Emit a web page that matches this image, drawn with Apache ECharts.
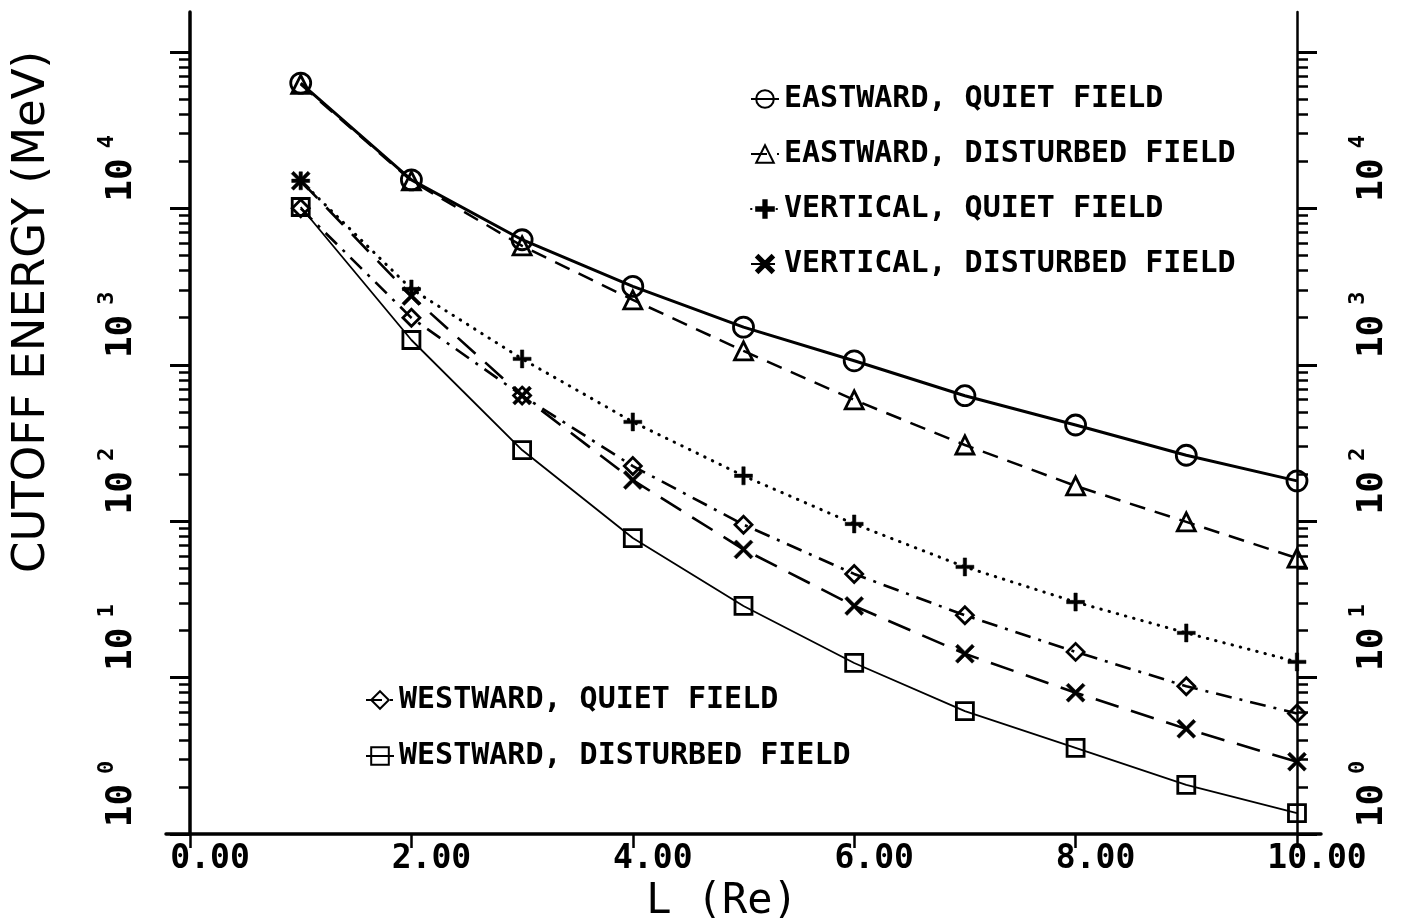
<!DOCTYPE html>
<html>
<head>
<meta charset="utf-8">
<script src="https://cdn.jsdelivr.net/npm/echarts@6/dist/echarts.min.js"></script>
<style>
html,body{margin:0;padding:0;background:#fff;}
#c{width:1403px;height:924px;}
</style>
</head>
<body>
<div id="c"></div>
<script>
// ---- data ----
const L = [1, 2, 3, 4, 5, 6, 7, 8, 9, 10];
const eastQuiet = [63200, 15200, 6300, 3170, 1740, 1060, 634, 412, 264, 181];
const eastDist  = [62000, 15000, 5750, 2600, 1225, 596, 307, 168, 99, 58];
const vertQuiet = [15000, 3050, 1090, 431, 195, 96, 51, 30.4, 19.3, 12.6];
const vertDist  = [15000, 2750, 635, 183, 66, 28.7, 14.2, 8.0, 4.7, 2.9];
const westQuiet = [10000, 1995, 635, 225, 95, 46, 25, 14.6, 8.8, 5.9];
const westDist  = [10200, 1440, 285, 78, 28.7, 12.4, 6.1, 3.55, 2.06, 1.36];
const seriesNames = [
  'EASTWARD, QUIET FIELD',
  'EASTWARD, DISTURBED FIELD',
  'VERTICAL, QUIET FIELD',
  'VERTICAL, DISTURBED FIELD',
  'WESTWARD, QUIET FIELD',
  'WESTWARD, DISTURBED FIELD'
];
const xTicks = [0, 2, 4, 6, 8, 10];
const yMajorTicks = [1, 10, 100, 1000, 10000, 100000];
const yLabels = [1, 10, 100, 1000, 10000];
const yMinorFactors = [2, 3, 4, 5, 6, 7, 8, 9];
const yMinorDecades = [1, 10, 100, 1000, 10000];
const xTitle = 'L (Re)';
const yTitle = 'CUTOFF ENERGY (MeV)';

// ---- build ----
const yMinor = [];
yMinorDecades.forEach(d => yMinorFactors.forEach(k => yMinor.push(k * d)));
const pairs = arr => arr.map((v, i) => [L[i], v]);

const MONO = '"DejaVu Sans Mono", monospace';
const SANS = '"DejaVu Sans", sans-serif';
const Y_MIN = 1, Y_MAX = 180000;
const AXIS_INSET = 24; // x axis line runs past both y axes by this many px

const PLUS = 'path://M6.5,0H9.5V6.5H16V9.5H9.5V16H6.5V9.5H0V6.5H6.5Z';
const CROSS = 'path://M0,2L2,0L8,6L14,0L16,2L10,8L16,14L14,16L8,10L2,16L0,14L6,8Z';

const openItem = {color: 'rgba(0,0,0,0)', borderColor: '#000', borderWidth: 2.8};
const filledItem = {color: '#000', borderColor: '#000', borderWidth: 0.5};

function line(name, data, symbol, size, lineStyle, item) {
  return {
    name: name,
    type: 'line',
    xAxisIndex: 0,
    yAxisIndex: 0,
    data: pairs(data),
    symbol: symbol,
    symbolSize: size,
    symbolKeepAspect: true,
    showAllSymbol: true,
    smooth: false,
    lineStyle: Object.assign({color: '#000'}, lineStyle),
    itemStyle: item,
    emphasis: {disabled: true}
  };
}

const series = [
  line(seriesNames[0], eastQuiet, 'circle', 20, {width: 3, type: 'solid'}, openItem),
  line(seriesNames[1], eastDist, 'triangle', 18, {width: 2.5, type: [16, 10]}, openItem),
  line(seriesNames[2], vertQuiet, PLUS, 18, {width: 3, type: [0.5, 8], cap: 'round'}, filledItem),
  line(seriesNames[3], vertDist, CROSS, 19, {width: 2.6, type: [24, 13]}, filledItem),
  line(seriesNames[4], westQuiet, 'diamond', 17, {width: 2.6, type: [16, 8, 3, 8]}, openItem),
  line(seriesNames[5], westDist, 'rect', 17, {width: 1.8, type: 'solid'}, openItem)
];

function yAxisDef(pos, major, showLine, lineW) {
  const ax = {
    type: 'log',
    logBase: 10,
    min: Y_MIN,
    max: Y_MAX,
    position: pos,
    offset: -AXIS_INSET,
    splitLine: {show: false},
    minorTick: {show: false},
    minorSplitLine: {show: false},
    axisLine: {show: showLine, lineStyle: {color: '#000', width: lineW}},
    axisTick: {
      show: true,
      inside: false,
      customValues: major ? yMajorTicks : yMinor,
      length: major ? 20 : 11,
      lineStyle: {color: '#000', width: major ? 3 : 2.5}
    },
    axisLabel: {show: false}
  };
  if (major) {
    ax.axisLabel = {
      show: true,
      customValues: yLabels,
      rotate: 90,
      margin: 50,
      padding: [0, 0, 0, 80],
      color: '#000',
      formatter: v => '{b|10}{s|' + Math.round(Math.log10(v)) + '}',
      rich: {
        b: {fontFamily: MONO, fontWeight: 'bold', fontSize: 36, lineHeight: 44, color: '#000', verticalAlign: 'bottom'},
        s: {fontFamily: MONO, fontWeight: 'bold', fontSize: 22, lineHeight: 22, color: '#000', verticalAlign: 'top', padding: [0, 0, 0, 10]}
      }
    };
  }
  return ax;
}

const yAxes = [
  yAxisDef('left', true, true, 3.5),
  yAxisDef('left', false, false, 3),
  yAxisDef('right', true, true, 2.5),
  yAxisDef('right', false, false, 2.5)
];
yAxes[0].name = yTitle;
yAxes[0].nameLocation = 'middle';
yAxes[0].nameRotate = 90;
yAxes[0].nameGap = 135;
yAxes[0].nameTextStyle = {fontFamily: SANS, fontSize: 45, color: '#000', padding: [0, 0, 0, 222]};

const legendText = {fontFamily: MONO, fontWeight: 'bold', fontSize: 30, lineHeight: 30, color: '#000'};

const option = {
  animation: false,
  backgroundColor: '#fff',
  grid: {left: 166, top: 12, width: 1155, height: 822, containLabel: false, outerBoundsMode: 'none'},
  xAxis: {
    type: 'value',
    min: -0.217,
    max: 10.217,
    splitLine: {show: false},
    axisLine: {show: true, onZero: false, lineStyle: {color: '#000', width: 3.5}},
    axisTick: {show: true, inside: false, customValues: xTicks, length: 14, lineStyle: {color: '#000', width: 2.5}},
    axisLabel: {
      show: true,
      customValues: xTicks,
      margin: 9,
      padding: [0, 0, 0, 40],
      fontFamily: MONO,
      fontWeight: 'bold',
      fontSize: 33,
      color: '#000',
      formatter: v => v.toFixed(2)
    },
    name: xTitle,
    nameLocation: 'middle',
    nameGap: 46,
    nameTextStyle: {fontFamily: MONO, fontSize: 42, color: '#000', padding: [0, 43, 0, 0]}
  },
  yAxis: yAxes,
  legend: [
    {
      data: seriesNames.slice(0, 4),
      orient: 'vertical',
      left: 745,
      top: 79,
      itemWidth: 28,
      itemHeight: 22,
      itemGap: 25,
      align: 'left',
      textStyle: legendText,
      selectedMode: false
    },
    {
      data: seriesNames.slice(4, 6),
      orient: 'vertical',
      left: 360,
      top: 680,
      itemWidth: 28,
      itemHeight: 22,
      itemGap: 26,
      align: 'left',
      textStyle: legendText,
      selectedMode: false
    }
  ],
  series: series
};

const chart = echarts.init(document.getElementById('c'), null, {renderer: 'canvas'});
chart.setOption(option);
</script>
</body>
</html>
